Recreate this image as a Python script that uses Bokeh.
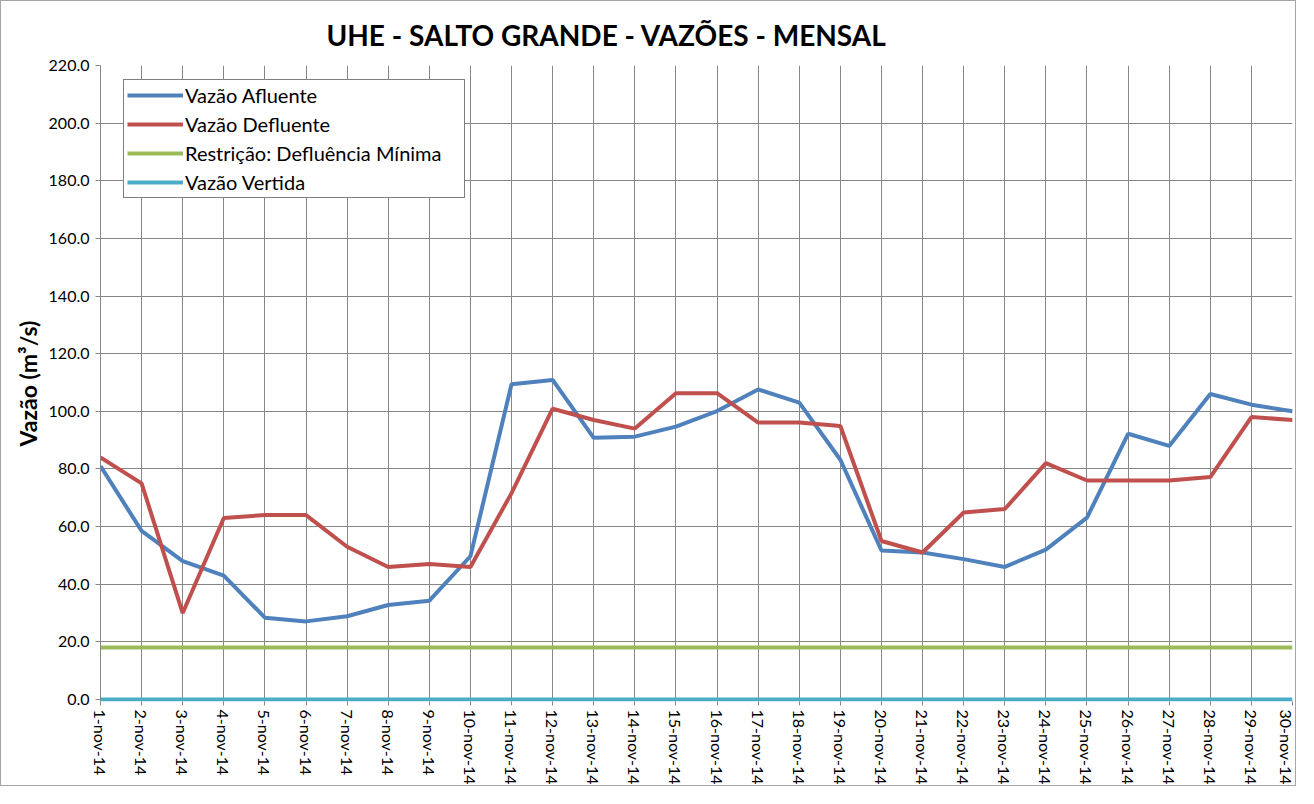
import math
from bokeh.plotting import figure
from bokeh.models import Range1d, FixedTicker, Legend, LegendItem, Title
from bokeh.embed import file_html
from bokeh.resources import INLINE

dates = [f"{d}-nov-14" for d in range(1, 31)]
afluente = [81, 58.5, 48, 43, 28.4, 27.1, 28.9, 32.8, 34.3, 49.7,
            109.4, 110.9, 90.8, 91.2, 94.7, 100.1, 107.6, 103.0, 83.2, 51.7,
            51.0, 48.7, 46.0, 52.0, 63.1, 92.2, 88.0, 106.0, 102.3, 100.0]
defluente = [84, 75, 30, 63, 64, 64, 53, 46, 47, 46,
             71.6, 100.9, 97.0, 94.0, 106.3, 106.3, 96.1, 96.1, 94.9, 55.0,
             51.0, 64.9, 66.1, 82.0, 76.0, 76.0, 76.0, 77.2, 98.0, 97.0]
restricao = [18] * 30
vertida = [0] * 30
y_ticks = [0, 20, 40, 60, 80, 100, 120, 140, 160, 180, 200, 220]

FONT = "Lato"
x = list(range(len(dates)))

p = figure(width=1296, height=786, output_backend="svg", toolbar_location=None,
           x_range=Range1d(0, 29), y_range=Range1d(-0.7, 220),
           min_border_left=99, min_border_right=5, min_border_top=64, min_border_bottom=85)
p.styles = {"border": "1px solid #a6a6a6"}
p.outline_line_color = None
p.background_fill_color = "white"
p.border_fill_color = "white"

t = Title(text="UHE - SALTO GRANDE - VAZÕES - MENSAL", align="left", offset=226,
          text_font=FONT, text_font_size="28px", text_font_style="bold",
          text_color="black", standoff=28)
p.add_layout(t, "above")

grid_col = "#878787"
p.xgrid.ticker = FixedTicker(ticks=x)
p.ygrid.ticker = FixedTicker(ticks=y_ticks)
for g in (p.xgrid[0], p.ygrid[0]):
    g.grid_line_color = grid_col
    g.grid_line_width = 1

p.xaxis.ticker = FixedTicker(ticks=x)
p.xaxis.major_label_overrides = {i: d for i, d in enumerate(dates)}
p.xaxis.major_label_orientation = -math.pi / 2
p.yaxis.ticker = FixedTicker(ticks=y_ticks)
p.yaxis.major_label_overrides = {v: f"{v:.1f}" for v in y_ticks}
for ax in (p.xaxis[0], p.yaxis[0]):
    ax.axis_line_color = grid_col
    ax.major_tick_line_color = grid_col
    ax.major_tick_out = 5
    ax.major_tick_in = 0
    ax.minor_tick_line_color = None
    ax.major_label_text_font = FONT
    ax.major_label_text_font_size = "16px"
    ax.major_label_text_color = "black"
p.xaxis.axis_line_color = None
p.xaxis.major_tick_out = 4
p.xaxis.major_label_standoff = 4
p.yaxis.major_label_standoff = 6
p.yaxis.axis_label = "Vazão (m³/s)"
p.yaxis.axis_label_text_font = FONT
p.yaxis.axis_label_text_font_size = "23px"
p.yaxis.axis_label_text_font_style = "bold"
p.yaxis.axis_label_text_color = "black"
p.yaxis.axis_label_standoff = 4

r_afl = p.line(x, afluente, line_color="#4F81BD", line_width=4)
r_def = p.line(x, defluente, line_color="#C0504D", line_width=4)
r_rest = p.line(x, restricao, line_color="#9BBB59", line_width=4)
r_vert = p.line(x, vertida, line_color="#4BACC6", line_width=4)

legend = Legend(items=[
    LegendItem(label="Vazão Afluente", renderers=[r_afl]),
    LegendItem(label="Vazão Defluente", renderers=[r_def]),
    LegendItem(label="Restrição: Defluência Mínima", renderers=[r_rest]),
    LegendItem(label="Vazão Vertida", renderers=[r_vert]),
], location=(23, 503), orientation="vertical")
legend.label_text_font = FONT
legend.label_text_font_size = "20px"
legend.label_text_color = "black"
legend.label_height = 24
legend.glyph_height = 24
legend.glyph_width = 56
legend.label_width = 276
legend.label_standoff = 2
legend.spacing = 5
legend.padding = 3
legend.margin = 0
legend.border_line_color = "black"
legend.border_line_width = 1
legend.background_fill_color = "white"
legend.background_fill_alpha = 1
p.add_layout(legend, "center")

open("out.html", "w").write(file_html(p, INLINE))
